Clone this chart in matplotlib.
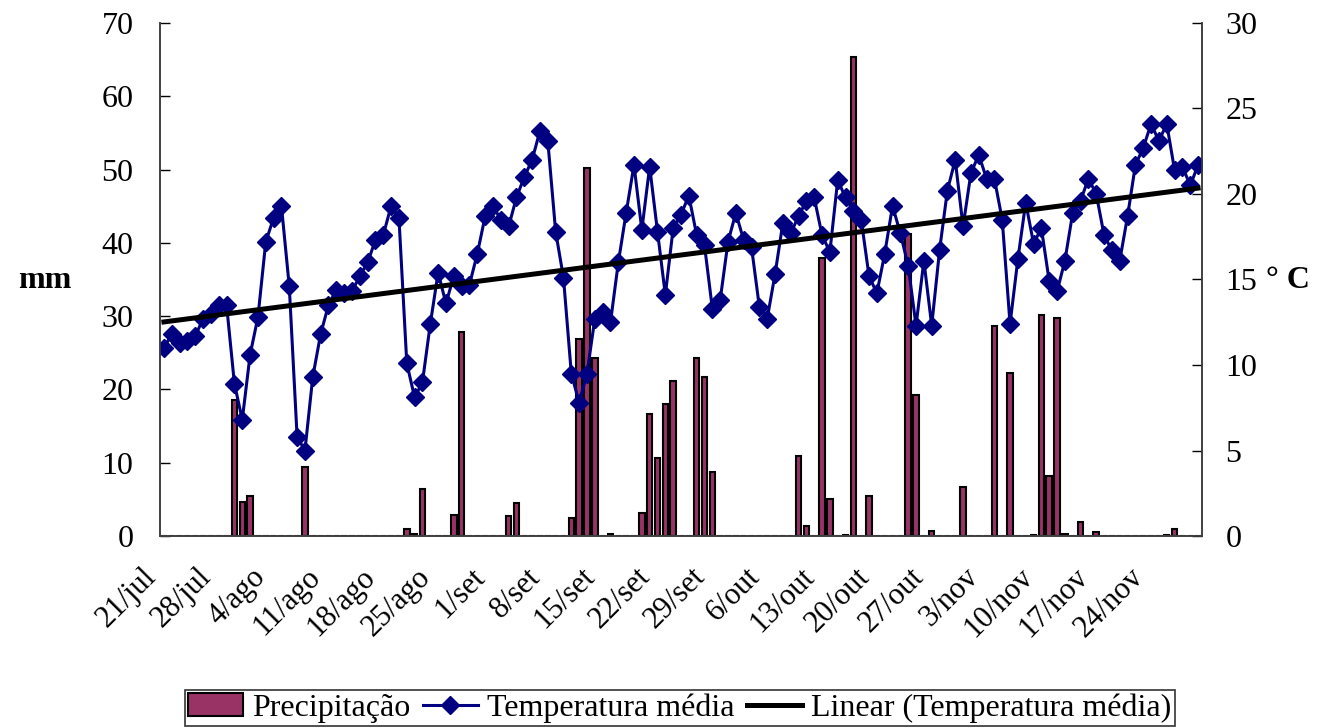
import numpy as np
import matplotlib.pyplot as plt
import matplotlib.transforms as mtransforms
from matplotlib.patches import Patch
from matplotlib.lines import Line2D

plt.rcParams['font.family'] = ['Liberation Serif', 'DejaVu Serif']

# daily mean temperature (deg C), 21/jul .. 30/nov
temps = [
    11.0, 11.8, 11.3, 11.4, 11.7, 12.7, 13.0, 13.5, 13.5, 8.9,
    6.8, 10.6, 12.8, 17.2, 18.6, 19.3, 14.6, 5.8, 5.0, 9.3,
    11.8, 13.5, 14.4, 14.2, 14.3, 15.2, 16.0, 17.3, 17.6, 19.3,
    18.6, 10.1, 8.1, 9.0, 12.4, 15.4, 13.6, 15.2, 14.6, 14.7,
    16.5, 18.7, 19.3, 18.5, 18.1, 19.8, 21.0, 22.0, 23.7, 23.1,
    17.8, 15.1, 9.5, 7.8, 9.5, 12.7, 13.1, 12.5, 16.0, 18.9,
    21.7, 17.9, 21.6, 17.8, 14.1, 18.0, 18.8, 19.9, 17.6, 17.0,
    13.3, 13.8, 17.2, 18.9, 17.3, 16.9, 13.4, 12.7, 15.3, 18.3,
    17.7, 18.7, 19.6, 19.8, 17.6, 16.6, 20.8, 19.8, 19.0, 18.5,
    15.2, 14.2, 16.5, 19.3, 17.7, 15.8, 12.3, 16.1, 12.3, 16.7,
    20.2, 22.0, 18.1, 21.2, 22.3, 20.9, 20.9, 18.5, 12.4, 16.2,
    19.5, 17.1, 18.0, 14.9, 14.3, 16.1, 18.9, 19.6, 20.9, 20.0,
    17.6, 16.7, 16.1, 18.7, 21.7, 22.7, 24.1, 23.1, 24.1, 21.4,
    21.6, 20.5, 21.7]

# rainy days (index from 21/jul) and rainfall (mm)
rain_days = [9, 10, 11, 18, 31, 32, 33, 37, 38, 44, 45, 52, 53, 54, 55, 57,
             61, 62, 63, 64, 65, 68, 69, 70, 81, 82, 84, 85, 87, 88, 90, 95,
             96, 98, 102, 106, 108, 111, 112, 113, 114, 115, 117, 119, 128, 129]
rain_mm = [18.6, 4.7, 5.4, 9.4, 1.0, 0.3, 6.4, 2.9, 27.9, 2.7, 4.5, 2.4, 26.9,
           50.2, 24.3, 0.3, 3.1, 16.6, 10.6, 18.0, 21.2, 24.3, 21.7, 8.8, 10.9,
           1.4, 38.0, 5.0, 0.2, 65.4, 5.5, 41.2, 19.3, 0.7, 6.7, 28.7, 22.2,
           0.2, 30.2, 8.2, 29.7, 0.3, 1.9, 0.5, 0.2, 0.9]

tick_labels = ['21/jul', '28/jul', '4/ago', '11/ago', '18/ago', '25/ago',
               '1/set', '8/set', '15/set', '22/set', '29/set', '6/out',
               '13/out', '20/out', '27/out', '3/nov', '10/nov', '17/nov',
               '24/nov']

days = np.arange(len(temps))
precip = np.zeros(len(temps))
precip[rain_days] = rain_mm

FS = 23

fig = plt.figure(figsize=(13.18, 7.28), dpi=100)
ax = fig.add_axes([160 / 1318, 1 - 536 / 728, (1202 - 160) / 1318, (536 - 23) / 728])
ax2 = ax.twinx()

ax.bar(days, precip, width=0.7, color='#993366', edgecolor='black', linewidth=1.5)

ax2.plot(days, temps, color='#000080', lw=2.2, marker='D', markersize=9)
coef = np.polyfit(days, temps, 1)
ax2.plot(days, np.polyval(coef, days), color='black', lw=3.6)

ax.set_xlim(-0.5, len(temps) - 0.5)
ax.set_ylim(0, 70)
ax2.set_ylim(0, 30)
ax.set_yticks(range(0, 71, 10))
ax2.set_yticks(range(0, 31, 5))

ax.set_xticks(np.arange(0, len(temps), 7))
ax.set_xticklabels(tick_labels, rotation=45, ha='right', va='center',
                   rotation_mode='anchor')
ax.tick_params(axis='x', length=0, pad=30, labelsize=22)
ax.tick_params(axis='y', direction='in', length=7.5, width=1, labelsize=FS, pad=19)
ax2.tick_params(axis='y', direction='in', length=7.5, width=1, labelsize=FS, pad=17)

# nudge the rotated date labels to the left
shift = mtransforms.ScaledTranslation(-12 / 100, 5 / 100, fig.dpi_scale_trans)
for lab in ax.get_xticklabels():
    lab.set_transform(lab.get_transform() + shift)

for a in (ax, ax2):
    a.spines['top'].set_visible(False)
    for s in ('left', 'right', 'bottom'):
        a.spines[s].set_color('#404040')
        a.spines[s].set_linewidth(1.2)

fig.text(45 / 1318, 1 - 281 / 728, 'mm', fontsize=FS, fontweight='bold',
         ha='center', va='center')
fig.text(1288 / 1318, 1 - 281 / 728, '° C', fontsize=FS, fontweight='bold',
         ha='center', va='center')

handles = [Patch(facecolor='#993366', edgecolor='black', linewidth=1.5),
           Line2D([], [], color='#000080', lw=2.2, marker='D', markersize=9),
           Line2D([], [], color='black', lw=3.6)]
labels = ['Precipitação', 'Temperatura média', 'Linear (Temperatura média)']
leg = fig.legend(handles, labels, loc='center', ncol=3,
                 bbox_to_anchor=(680 / 1318, 1 - 708 / 728), fontsize=FS,
                 frameon=True, fancybox=False, edgecolor='black',
                 handlelength=1.7, handletextpad=0.3, columnspacing=0.4,
                 borderpad=0.1, borderaxespad=0)
leg.get_frame().set_linewidth(1.2)

fig.savefig('out.png', dpi=100)
